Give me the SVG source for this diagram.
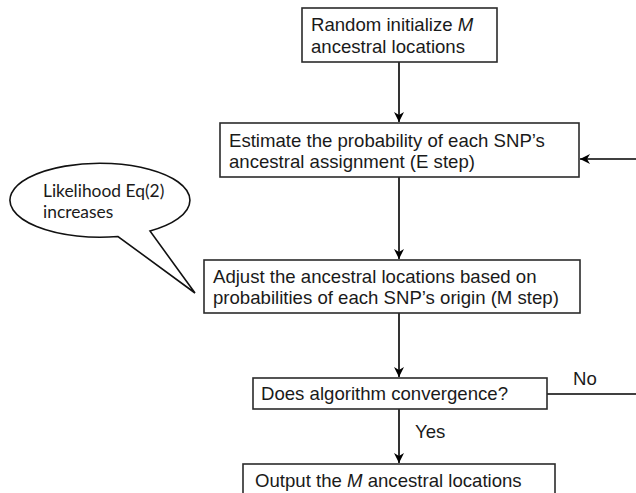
<svg xmlns="http://www.w3.org/2000/svg" width="636" height="493" viewBox="0 0 636 493">
<style>
.box{fill:#fff;stroke:#2b2b2b;stroke-width:1.6}
.t{font-family:"Liberation Sans",Arial,sans-serif;font-size:18.6px;fill:#1a1a1a}
.c{font-family:Lato,"Open Sans",sans-serif;font-size:17.4px;fill:#1a1a1a}
.ln{fill:none;stroke:#000;stroke-width:1.6}
</style>
<defs>
<marker id="ah" markerWidth="12" markerHeight="10" refX="10" refY="5" orient="auto" markerUnits="userSpaceOnUse">
<path d="M0,0 L10,5 L0,10 L3,5 Z" fill="#000"/>
</marker>
</defs>
<rect width="636" height="493" fill="#fff"/>
<g id="connectors">
<line class="ln" x1="399" y1="62" x2="399" y2="122" marker-end="url(#ah)"/>
<line class="ln" x1="399" y1="177" x2="399" y2="259" marker-end="url(#ah)"/>
<line class="ln" x1="399" y1="313" x2="399" y2="377" marker-end="url(#ah)"/>
<line class="ln" x1="399" y1="409" x2="399" y2="463" marker-end="url(#ah)"/>
<line class="ln" x1="547" y1="394" x2="636" y2="394"/>
<line class="ln" x1="636" y1="159" x2="580" y2="159" marker-end="url(#ah)"/>
<text class="t" x="573" y="385">No</text>
<text class="t" x="415" y="438">Yes</text>
</g>
<g id="n1">
<rect class="box" x="302" y="8" width="195" height="54"/>
<text class="t" x="311" y="31">Random initialize <tspan font-style="italic">M</tspan></text>
<text class="t" x="311" y="53">ancestral locations</text>
</g>
<g id="n2">
<rect class="box" x="220" y="123" width="359" height="54"/>
<text class="t" x="229" y="147">Estimate the probability of each SNP’s</text>
<text class="t" x="229" y="168">ancestral assignment (E step)</text>
</g>
<g id="n3">
<rect class="box" x="204" y="260" width="376" height="53"/>
<text class="t" x="213" y="283">Adjust the ancestral locations based on</text>
<text class="t" x="213" y="304">probabilities of each SNP’s origin (M step)</text>
</g>
<g id="n4">
<rect class="box" x="253" y="378" width="294" height="31"/>
<text class="t" x="261" y="400">Does algorithm convergence?</text>
</g>
<g id="n5">
<rect class="box" x="243" y="464" width="312" height="40"/>
<text class="t" x="255" y="487">Output the <tspan font-style="italic">M</tspan> ancestral locations</text>
</g>
<g id="callout">
<path d="M118,236.5 A90,37 0 1 1 150,231 L195,293 Z" fill="#fff" stroke="#111" stroke-width="1.6" stroke-linejoin="miter"/>
<text class="c" x="43" y="197">Likelihood Eq(2)</text>
<text class="c" x="43" y="218">increases</text>
</g>
</svg>
